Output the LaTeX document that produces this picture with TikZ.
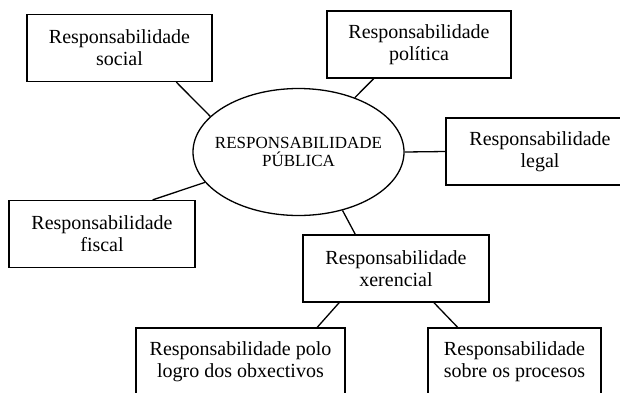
\documentclass[tikz,border=0pt]{standalone}
\usepackage{fontspec}
\setmainfont{Liberation Serif}
\usetikzlibrary{shapes.geometric}

\begin{document}
\begin{tikzpicture}[x=1pt, y=-1pt, line width=1.3pt,
    box/.style={draw, rectangle, align=center, inner sep=0pt,
        minimum height=67pt, font=\fontsize{20}{22}\selectfont},
    ell/.style={draw, ellipse, inner sep=0pt,
        minimum width=211pt, minimum height=127pt,
        label={[align=center, font=\fontsize{17}{18}\selectfont]center:#1}}]
        \useasboundingbox (0, 0) rectangle (620, 392);
        \clip (0, 0) rectangle (620, 392);
        % centre
        \node[ell={RESPONSABILIDADE\\PÚBLICA}] (publica) at (298.5, 152) {};
        % first level
        \node[box, minimum width=185pt] (social) at (119.5, 48) {Responsabilidade\\social};
        \node[box, minimum width=184pt] (politica) at (419, 44.5) {Responsabilidade\\política};
        \node[box, minimum width=188pt] (legal) at (540, 151.5) {Responsabilidade\\legal};
        \node[box, minimum width=186pt] (fiscal) at (102, 234) {Responsabilidade\\fiscal};
        \node[box, minimum width=186pt] (xerencial) at (396, 268.5) {Responsabilidade\\xerencial};
        % second level
        \node[box, minimum width=209pt] (logro) at (240.5, 361.5) {Responsabilidade polo\\logro dos obxectivos};
        \node[box, minimum width=173pt] (procesos) at (514.5, 361.5) {Responsabilidade\\sobre os procesos};
        \draw (social.-31) -- (publica.158);
        \draw (politica.-143) -- (publica.44);
        \draw (publica.east) -- (legal.west);
        \draw (fiscal.34) -- (publica.198);
        \draw (publica.-53) -- (xerencial.140);
        \draw (xerencial.-149) -- (logro.24);
        \draw (xerencial.-42) -- (procesos.149);
    \end{tikzpicture}
\end{document}
